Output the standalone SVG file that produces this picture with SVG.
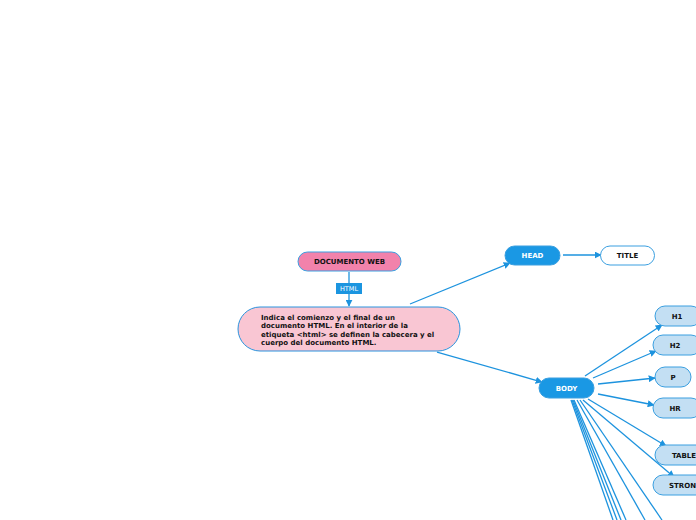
<svg xmlns="http://www.w3.org/2000/svg" width="696" height="520" viewBox="0 0 696 520">
<defs>
<style>
text{font-family:"DejaVu Sans","Verdana",sans-serif;font-weight:bold;}
.lbl{font-size:7px;text-anchor:middle;fill:#111;}
.wl{font-size:7px;text-anchor:middle;fill:#fff;}
.sub{fill:#c3dff3;stroke:#3a9fe0;stroke-width:1;}
.main{fill:#1a98e4;stroke:#3a9fe0;stroke-width:1;}
.con{stroke:#1d93de;stroke-width:1.3;fill:none;}
</style>
<marker id="ah" viewBox="0 0 10 10" refX="9" refY="5" markerWidth="7" markerHeight="7" markerUnits="userSpaceOnUse" orient="auto">
<path d="M0,0 L10,5 L0,10 z" fill="#1d93de"/>
</marker>
</defs>
<g id="connectors">
<line class="con" x1="349" y1="272" x2="349" y2="306" marker-end="url(#ah)"/>
<line class="con" x1="410" y1="304" x2="510" y2="263" marker-end="url(#ah)"/>
<line class="con" x1="563" y1="255" x2="601" y2="255" marker-end="url(#ah)"/>
<line class="con" x1="437" y1="352" x2="542" y2="382" marker-end="url(#ah)"/>
<line class="con" x1="585" y1="376" x2="662" y2="325" marker-end="url(#ah)"/>
<line class="con" x1="593" y1="378" x2="656" y2="351" marker-end="url(#ah)"/>
<line class="con" x1="598" y1="384" x2="655" y2="378" marker-end="url(#ah)"/>
<line class="con" x1="598" y1="394" x2="654" y2="405" marker-end="url(#ah)"/>
<line class="con" x1="588" y1="399" x2="666" y2="446" marker-end="url(#ah)"/>
<line class="con" x1="583" y1="400" x2="674" y2="477" marker-end="url(#ah)"/>
<line class="con" x1="571" y1="400" x2="613" y2="520"/>
<line class="con" x1="572" y1="400" x2="617" y2="520"/>
<line class="con" x1="573" y1="400" x2="621" y2="520"/>
<line class="con" x1="574" y1="400" x2="626" y2="520"/>
<line class="con" x1="577" y1="400" x2="645" y2="520"/>
<line class="con" x1="580" y1="400" x2="662" y2="520"/>
</g>
<g id="documento-web">
<rect x="298" y="252" width="103" height="19" rx="9.5" fill="#f282ab" stroke="#3a9fe0"/>
<text class="lbl" x="349.5" y="264">DOCUMENTO WEB</text>
</g>
<g id="html-label">
<rect x="336" y="283" width="26" height="11" fill="#1b95e0"/>
<text x="349" y="291" font-size="6.5" fill="#fff" text-anchor="middle" style="font-weight:normal">HTML</text>
</g>
<g id="html-node">
<rect x="238" y="307" width="222" height="44" rx="22" fill="#f9c6d3" stroke="#2a94de"/>
<text font-size="7" fill="#111">
<tspan x="261" y="319.5">Indica el comienzo y el final de un</tspan>
<tspan x="261" y="328">documento HTML. En el interior de la</tspan>
<tspan x="261" y="336.5">etiqueta &lt;html&gt; se definen la cabecera y el</tspan>
<tspan x="261" y="345">cuerpo del documento HTML.</tspan>
</text>
</g>
<g id="head">
<rect class="main" x="505" y="246" width="55" height="19" rx="9.5"/>
<text class="wl" x="532.5" y="258">HEAD</text>
</g>
<g id="title">
<rect x="600.5" y="246" width="54" height="19" rx="9.5" fill="#fff" stroke="#3a9fe0"/>
<text class="lbl" x="627.5" y="258">TITLE</text>
</g>
<g id="body">
<rect class="main" x="539" y="378" width="55" height="20" rx="10"/>
<text class="wl" x="566.5" y="390.5">BODY</text>
</g>
<g id="h1">
<rect class="sub" x="655" y="306" width="46" height="20" rx="10"/>
<text class="lbl" x="677" y="318.5">H1</text>
</g>
<g id="h2">
<rect class="sub" x="653" y="335" width="48" height="20" rx="10"/>
<text class="lbl" x="675" y="347.5">H2</text>
</g>
<g id="p">
<rect class="sub" x="655" y="367" width="36" height="20" rx="10"/>
<text class="lbl" x="673" y="379.5">P</text>
</g>
<g id="hr">
<rect class="sub" x="653" y="398" width="48" height="20" rx="10"/>
<text class="lbl" x="675" y="410.5">HR</text>
</g>
<g id="table">
<rect class="sub" x="655" y="445" width="56" height="20" rx="10"/>
<text class="lbl" x="684" y="457.5">TABLE</text>
</g>
<g id="strong">
<rect class="sub" x="653" y="475" width="60" height="20" rx="10"/>
<text class="lbl" x="669" y="487.5" style="text-anchor:start">STRONG</text>
</g>
</svg>
